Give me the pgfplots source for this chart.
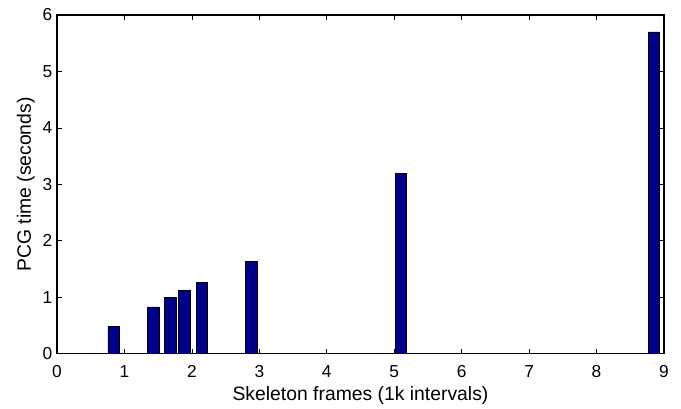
\documentclass[border=0pt]{standalone}
\usepackage{pgfplots}
\pgfplotsset{compat=1.18}
\usepackage{fontspec}
\setmainfont{Liberation Sans}
\usetikzlibrary{calc}
\definecolor{matnavy}{RGB}{0,0,140}

\begin{document}
\begin{tikzpicture}[x=1pt,y=1pt]
\begin{axis}[
    name=main,
    scale only axis,
    width=455pt, height=254pt,
    xmin=0, xmax=9, ymin=0, ymax=6,
    xtick={0,...,9}, ytick={0,...,6},
    tick align=inside,
    tick pos=both,
    major tick length=4pt,
    axis line style={line width=0.8pt},
    tick style={line width=0.6pt, black},
    /pgf/number format/assume math mode=true,
    ticklabel style={font=\fontsize{13}{15}\selectfont},
    xticklabel style={yshift=-5pt},
    label style={font=\fontsize{14.5}{17}\selectfont},
    xlabel={Skeleton frames (1k intervals)},
    ylabel={PCG time (seconds)},
    xlabel style={yshift=0.5pt},
    ylabel style={yshift=-1pt},
]
% bar heights
\addplot[ybar, bar width=0.17, fill=matnavy, draw=black, line width=0.5pt]
    coordinates {(0.84,0.48) (1.43,0.83) (1.68,1.00) (1.89,1.13) (2.15,1.27)
                 (2.88,1.63) (5.10,3.20) (8.85,5.70)};
\end{axis}
\path (main.south west) ++(-42.75pt,-38.25pt) rectangle ($(main.north east)+(12.75pt,11.25pt)$);
\end{tikzpicture}
\end{document}
